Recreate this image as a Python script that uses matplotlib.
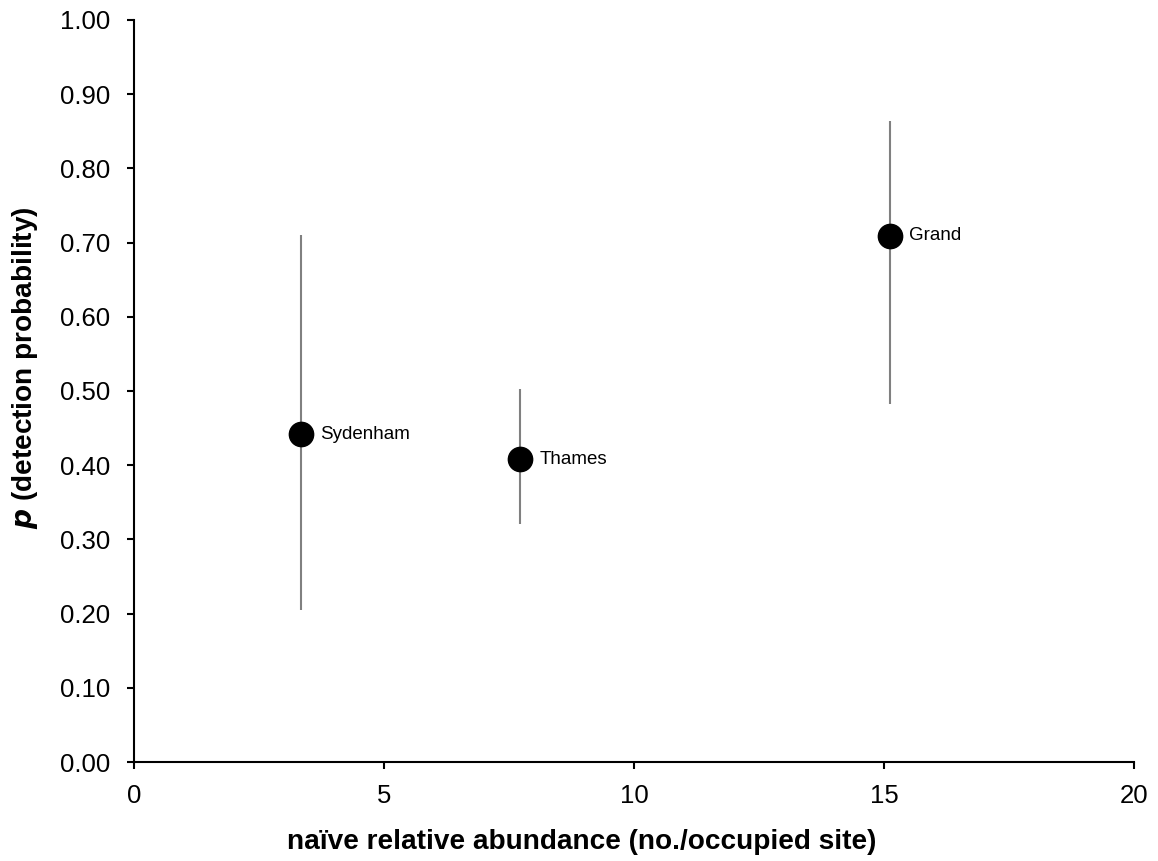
import matplotlib
matplotlib.use('Agg')
import matplotlib.pyplot as plt

plt.rcParams['font.family'] = ['Liberation Sans', 'DejaVu Sans']

# river sites: naive abundance vs detection probability with confidence limits
sites = ['Sydenham', 'Thames', 'Grand']
abundance = [3.33, 7.72, 15.12]
p_detect = [0.442, 0.408, 0.709]
p_lower = [0.205, 0.321, 0.482]
p_upper = [0.710, 0.503, 0.864]

fig = plt.figure(figsize=(11.58, 8.61), dpi=100)
ax = fig.add_axes([134 / 1158, 1 - 762 / 861, 1000 / 1158, 742 / 861])

yerr = [[p - lo for p, lo in zip(p_detect, p_lower)],
        [hi - p for p, hi in zip(p_detect, p_upper)]]
ax.errorbar(abundance, p_detect, yerr=yerr, fmt='none', ecolor='#808080',
            elinewidth=1.5, capsize=0, zorder=2)
ax.plot(abundance, p_detect, 'o', color='black', markersize=17.5, zorder=3)

for x, y, name in zip(abundance, p_detect, sites):
    ax.annotate(name, (x, y), xytext=(14, 0), textcoords='offset points',
                va='center', ha='left', fontsize=13.5)

ax.set_xlim(0, 20)
ax.set_ylim(0, 1)
ax.set_xticks([0, 5, 10, 15, 20])
ax.set_yticks([i / 10 for i in range(11)])
ax.set_yticklabels([f'{i / 10:.2f}' for i in range(11)])
ax.tick_params(axis='both', labelsize=18.5, direction='out', length=5, width=1.5)
ax.tick_params(axis='y', pad=12)
ax.tick_params(axis='x', pad=11)
for side in ['top', 'right']:
    ax.spines[side].set_visible(False)
for side in ['left', 'bottom']:
    ax.spines[side].set_linewidth(1.5)

ax.set_xlabel('naïve relative abundance (no./occupied site)', fontsize=20.2,
              fontweight='bold')
ax.set_ylabel(r'$\boldsymbol{p}$ (detection probability)', fontsize=20.2,
              fontweight='bold')
ax.xaxis.set_label_coords(0.448, -0.09)
ax.yaxis.set_label_coords(-0.094, 0.532)

fig.savefig('out.png', dpi=100)
